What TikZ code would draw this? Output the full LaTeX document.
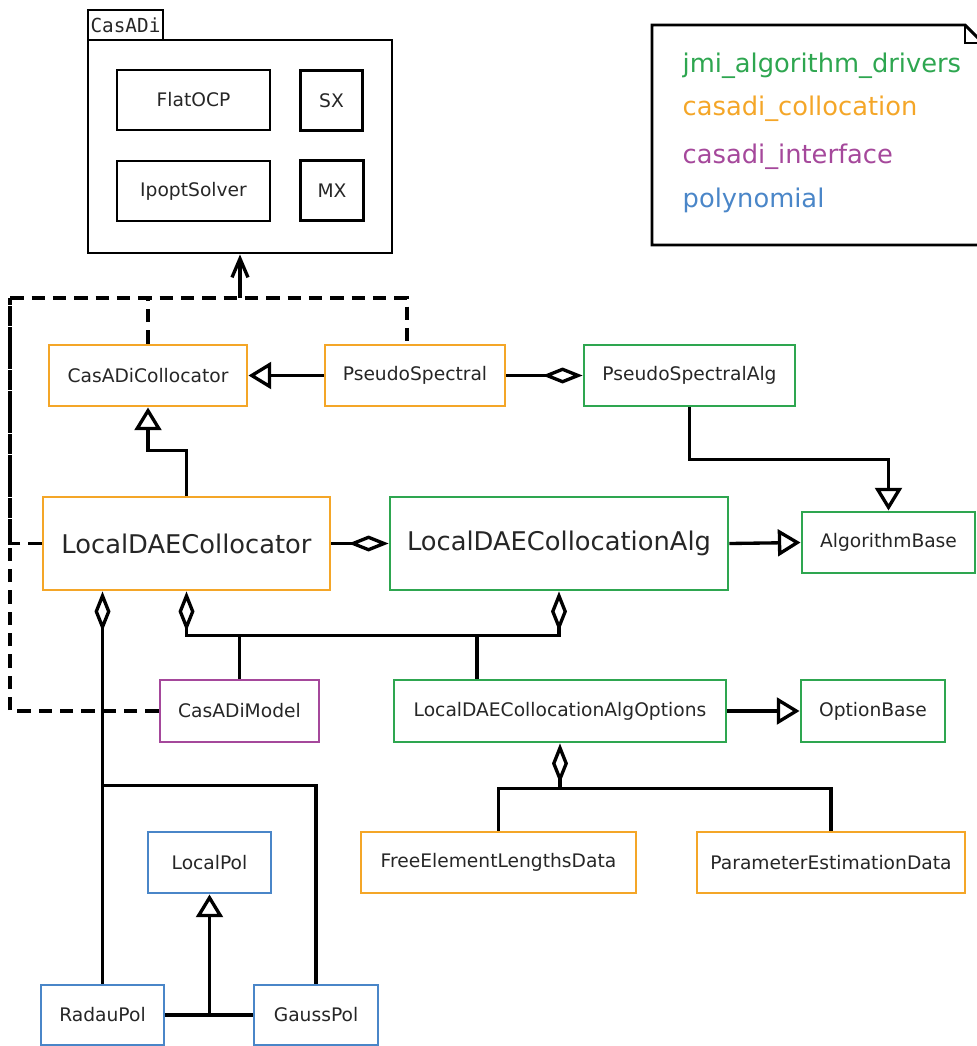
\documentclass[tikz,border=0pt]{standalone}
\usepackage{fontspec}
\setmainfont{DejaVu Sans}
\setmonofont{DejaVu Sans Mono}
\usetikzlibrary{arrows.meta}

\definecolor{drvGreen}{RGB}{46,166,80}
\definecolor{colOrange}{RGB}{244,166,40}
\definecolor{ifPurple}{RGB}{165,72,155}
\definecolor{polBlue}{RGB}{74,134,200}

\begin{document}
\begin{tikzpicture}[x=0.75pt, y=-0.75pt,
  cls/.style={draw, line width=2.2pt, inner sep=0pt, text=black!85,
    font=\fontsize{14}{16}\selectfont},
  bigcls/.style={cls, font=\fontsize{19.3}{22}\selectfont},
  conn/.style={line width=2.5pt, black},
  dep/.style={conn, dash pattern=on 10pt off 6pt},
  inherit/.style={-{Triangle[open, length=17pt, width=20pt]}},
  aggr/.style={-{Diamond[open, length=30pt, width=12pt]}},
  uses/.style={-{Straight Barb[length=14pt, width=12pt]}}]
  \useasboundingbox (0,0) rectangle (977,1046);

  % CasADi package
  \node[cls, minimum width=228pt, minimum height=159.75pt] (pkg) at (240,146.5) {};
  \node[cls, minimum width=56.25pt, minimum height=22.5pt,
    font=\ttfamily\fontsize{14.5}{16}\selectfont] (tab) at (125.5,25) {CasADi};
  \node[cls, minimum width=114.75pt, minimum height=45pt] (flatocp) at (193.5,100) {FlatOCP};
  \node[cls, minimum width=47pt, minimum height=45.5pt] (sx) at (331.5,100.5) {SX};
  \node[cls, minimum width=114.75pt, minimum height=45pt] (ipopt) at (193.5,191) {IpoptSolver};
  \node[cls, minimum width=47pt, minimum height=44.5pt] (mx) at (332,190.5) {MX};

  % Legend note
  \draw[line width=2.2pt] (652,25) -- (965,25) -- (983,43) -- (983,245) -- (652,245) -- cycle;
  \draw[line width=2.2pt] (965,25) -- (965,43) -- (983,43);
  \node[drvGreen, anchor=base west, font=\fontsize{19.3}{22}\selectfont] (lgdrv) at (678,72) {jmi\_algorithm\_drivers};
  \node[colOrange, anchor=base west, font=\fontsize{19.3}{22}\selectfont] (lgcol) at (678,115) {casadi\_collocation};
  \node[ifPurple, anchor=base west, font=\fontsize{19.3}{22}\selectfont] (lgif) at (678,163) {casadi\_interface};
  \node[polBlue, anchor=base west, font=\fontsize{19.3}{22}\selectfont] (lgpol) at (678,207) {polynomial};

  % Classes
  \node[cls, draw=colOrange, minimum width=148.5pt, minimum height=45.75pt] (collocator) at (148,375.5) {CasADiCollocator};
  \node[cls, draw=colOrange, minimum width=135pt, minimum height=45.75pt] (pseudo) at (415,375.5) {PseudoSpectral};
  \node[cls, draw=drvGreen, minimum width=158.25pt, minimum height=45.75pt] (pseudoalg) at (689.5,375.5) {PseudoSpectralAlg};
  \node[cls, draw=drvGreen, minimum width=129.75pt, minimum height=45.75pt] (algbase) at (888.5,542.5) {AlgorithmBase};
  \node[bigcls, draw=colOrange, minimum width=215.25pt, minimum height=69.75pt] (localcoll) at (186.5,543.5) {LocalDAECollocator};
  \node[bigcls, draw=drvGreen, minimum width=253.5pt, minimum height=69.75pt] (localalg) at (559,543.5) {LocalDAECollocationAlg};
  \node[cls, draw=ifPurple, minimum width=119.25pt, minimum height=46.5pt] (model) at (239.5,711) {CasADiModel};
  \node[cls, draw=drvGreen, minimum width=249pt, minimum height=46.5pt] (options) at (560,711) {LocalDAECollocationAlgOptions};
  \node[cls, draw=drvGreen, minimum width=108pt, minimum height=46.5pt] (optbase) at (873,711) {OptionBase};
  \node[cls, draw=colOrange, minimum width=206.25pt, minimum height=45.75pt] (freeel) at (498.5,862.5) {FreeElementLengthsData};
  \node[cls, draw=colOrange, minimum width=201pt, minimum height=45.75pt] (paramest) at (831,862.5) {ParameterEstimationData};
  \node[cls, draw=polBlue, minimum width=92.25pt, minimum height=45.75pt] (localpol) at (209.5,862.5) {LocalPol};
  \node[cls, draw=polBlue, minimum width=92.25pt, minimum height=45pt] (radau) at (102.5,1015) {RadauPol};
  \node[cls, draw=polBlue, minimum width=93pt, minimum height=45pt] (gauss) at (316,1015) {GaussPol};

  % Dependencies on CasADi
  \coordinate (dtl) at (10,298);
  \coordinate (dtr) at (407,298);
  \coordinate (dup) at (240,298);
  \draw[dep] (localcoll.west) -| (dtl) -- (dtr) -- (dtr |- pseudo.north);
  \draw[dep] (model.west) -| (dtl);
  \draw[dep] (collocator.north) -- (collocator.north |- dtl);
  \draw[conn, uses] (dup) -- (dup |- pkg.south);

  % Inheritance
  \draw[conn, inherit] (pseudo.west) -- (collocator.east);
  \draw[conn, inherit] (localcoll.north) -- ++(0,-45) -| (collocator.south);
  \draw[conn, inherit] (pseudoalg.south) -- ++(0,52) -| (algbase.north);
  \draw[conn, inherit] (localalg.east) -- (algbase.west);
  \draw[conn, inherit] (options.east) -- (optbase.west);
  \draw[conn] (radau.east) -- (gauss.west);
  \coordinate (polmid) at (localpol.south |- radau.east);
  \draw[conn, inherit] (polmid) -- (localpol.south);

  % Aggregation
  \draw[conn, aggr] (pseudo.east) -- (pseudoalg.west);
  \draw[conn, aggr] (localcoll.east) -- (localalg.west);
  \draw[conn, aggr] (radau.north) -- (radau.north |- localcoll.south);
  \draw[conn] (gauss.north) -- ++(0,-198) -- ++(-214,0);
  \draw[conn, {Diamond[open, length=30pt, width=12pt]}-{Diamond[open, length=30pt, width=12pt]}]
    (localcoll.south) -- ++(0,44) coordinate (bus) -| (localalg.south);
  \coordinate (optjoin) at (477,634);
  \draw[conn] (model.north) -- (model.north |- bus);
  \draw[conn] (optjoin) -- (optjoin |- options.north);
  \draw[conn, {Diamond[open, length=30pt, width=12pt]}-] (options.south) -- ++(0,45) coordinate (optbus);
  \draw[conn] (freeel.north) |- (optbus) -| (paramest.north);
\end{tikzpicture}
\end{document}
